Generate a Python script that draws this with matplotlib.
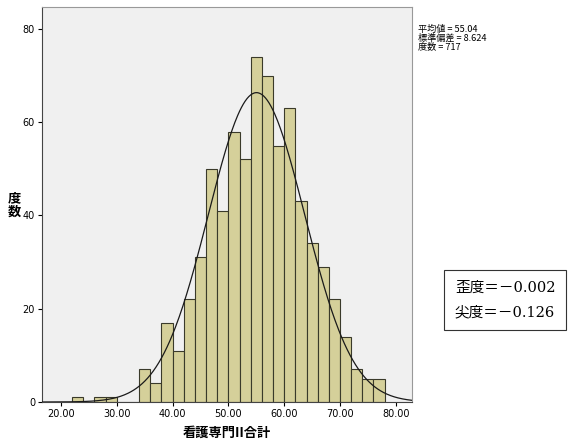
import numpy as np
import matplotlib
matplotlib.use("Agg")
from matplotlib import pyplot as plt

# histogram data (bin width 2)
bin_left = [22, 24, 26, 28, 30, 32, 34, 36, 38, 40, 42, 44, 46, 48, 50,
            52, 54, 56, 58, 60, 62, 64, 66, 68, 70, 72, 74, 76]
counts = [1, 0, 1, 1, 0, 0, 7, 4, 17, 11, 22, 31, 50, 41, 58,
          52, 74, 70, 55, 63, 43, 34, 29, 22, 14, 7, 5, 5]
bin_width = 2
mean = 55.04
sd = 8.624
n_total = 717
x_ticks = [20, 30, 40, 50, 60, 70, 80]
y_ticks = [0, 20, 40, 60, 80]

jp = ['Noto Sans CJK JP', 'DejaVu Sans']
plt.rcParams['font.family'] = jp

fig = plt.figure(figsize=(5.7, 4.45), dpi=100)
ax = fig.add_axes([42 / 570, 43 / 445, 370 / 570, 395 / 445])
ax.set_facecolor('#f0f0f0')

ax.bar(bin_left, counts, width=bin_width, align='edge',
       color='#d5d09a', edgecolor='#3a3a2a', linewidth=0.8, zorder=2)

# normal curve from the reported mean / sd
xs = np.linspace(16.6, 82.9, 400)
ys = n_total * bin_width / (sd * np.sqrt(2 * np.pi)) * np.exp(-0.5 * ((xs - mean) / sd) ** 2)
ax.plot(xs, ys, color='#1a1a1a', linewidth=0.9, zorder=3)

ax.set_xlim(16.6, 82.9)
ax.set_ylim(0, 84.7)
ax.set_xticks(x_ticks)
ax.set_xticklabels([f"{v:.2f}" for v in x_ticks], fontsize=7, family='DejaVu Sans')
ax.set_yticks(y_ticks)
ax.set_yticklabels([str(v) for v in y_ticks], fontsize=7, family='DejaVu Sans')
ax.tick_params(length=3, width=0.8, pad=2)
for s in ['top', 'right']:
    ax.spines[s].set_color('#999999')
ax.spines['left'].set_color('#444444')
ax.spines['bottom'].set_color('#444444')

ax.set_xlabel('看護専門II合計', fontsize=9.5, fontweight='bold', labelpad=5)
fig.text(14 / 570, 1 - 205 / 445, '度\n数', fontsize=9.5, fontweight='bold',
         ha='center', va='center', linespacing=1.0)

fig.text(418 / 570, 1 - 25 / 445,
         f'平均値 = {mean:.2f}\n標準偏差 = {sd:.3f}\n度数 = {n_total}',
         fontsize=6.6, va='top', ha='left', linespacing=0.9)

fig.text(505 / 570, 1 - 300 / 445, '歪度＝－0.002\n尖度＝－0.126',
         fontsize=10.5, ha='center', va='center', linespacing=1.95,
         family=['DejaVu Serif', 'Noto Sans CJK JP'],
         bbox=dict(boxstyle='square,pad=0.75', facecolor='white',
                   edgecolor='#333333', linewidth=0.8))

fig.savefig('out.png', dpi=100, facecolor='white')
